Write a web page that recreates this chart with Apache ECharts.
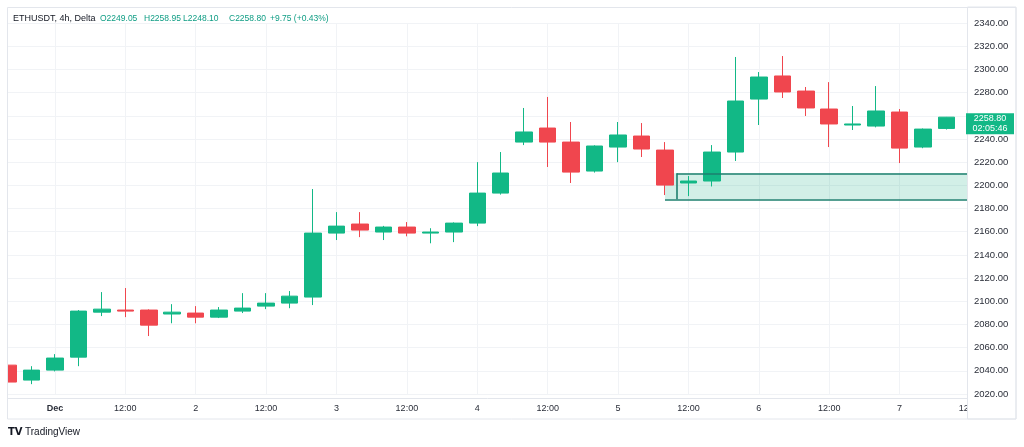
<!DOCTYPE html>
<html>
<head>
<meta charset="utf-8">
<script src="https://cdn.jsdelivr.net/npm/echarts@6/dist/echarts.min.js"></script>
<style>
html,body{margin:0;padding:0;background:#fff;}
#chart{width:1024px;height:447px;}
</style>
</head>
<body>
<div id="chart"></div>
<script>
// ---- data ----
const categories = [
  '11-30 16:00','11-30 20:00',
  '12-01 00:00','12-01 04:00','12-01 08:00','12-01 12:00','12-01 16:00','12-01 20:00',
  '12-02 00:00','12-02 04:00','12-02 08:00','12-02 12:00','12-02 16:00','12-02 20:00',
  '12-03 00:00','12-03 04:00','12-03 08:00','12-03 12:00','12-03 16:00','12-03 20:00',
  '12-04 00:00','12-04 04:00','12-04 08:00','12-04 12:00','12-04 16:00','12-04 20:00',
  '12-05 00:00','12-05 04:00','12-05 08:00','12-05 12:00','12-05 16:00','12-05 20:00',
  '12-06 00:00','12-06 04:00','12-06 08:00','12-06 12:00','12-06 16:00','12-06 20:00',
  '12-07 00:00','12-07 04:00','12-07 08:00','12-07 12:00'
];
const opens  = [2044.9,2032.0,2040.6,2051.8,2090.6,2092.4,2092.4,2089.0,2089.8,2086.3,2091.5,2095.8,2098.4,2103.6,
                2158.8,2166.6,2159.7,2164.0,2158.8,2159.7,2167.4,2193.3,2237.3,2249.4,2237.3,2212.3,2233.0,2242.5,
                2230.4,2202.0,2203.7,2228.7,2274.4,2294.3,2281.3,2265.8,2252.0,2251.1,2263.2,2233.0,2249.05];
const closes = [2030.3,2040.6,2051.0,2091.5,2093.2,2091.5,2079.4,2090.6,2086.3,2092.4,2094.1,2098.4,2104.4,2158.8,
                2164.8,2161.4,2164.0,2158.8,2159.7,2167.4,2193.3,2210.6,2246.0,2237.3,2211.4,2233.9,2243.4,2231.3,
                2200.2,2203.7,2228.7,2272.7,2293.4,2280.5,2266.7,2252.9,2252.9,2264.1,2232.1,2248.5,2258.80];
const lows   = [2024.0,2028.5,2039.5,2044.0,2087.2,2086.3,2070.0,2081.0,2081.0,2085.5,2089.8,2093.2,2094.0,2096.7,
                2152.8,2155.3,2152.8,2156.0,2150.0,2151.0,2164.8,2192.0,2234.7,2215.8,2202.0,2211.0,2220.0,2224.4,
                2191.6,2190.7,2199.0,2221.0,2252.0,2275.3,2259.8,2233.0,2247.7,2250.0,2219.2,2232.0,2248.10];
const highs  = [2052.7,2044.0,2054.4,2092.4,2107.9,2111.4,2093.0,2097.5,2095.8,2095.0,2107.0,2107.0,2108.8,2196.8,
                2176.9,2176.9,2165.0,2168.3,2163.0,2168.0,2220.0,2228.7,2266.7,2276.2,2254.6,2234.5,2254.6,2253.7,
                2237.3,2208.0,2234.7,2310.7,2297.7,2311.5,2284.8,2289.0,2268.4,2285.6,2265.8,2249.0,2258.95];
const tickLabels = {
  '12-01 00:00':'Dec','12-01 12:00':'12:00','12-02 00:00':'2','12-02 12:00':'12:00',
  '12-03 00:00':'3','12-03 12:00':'12:00','12-04 00:00':'4','12-04 12:00':'12:00',
  '12-05 00:00':'5','12-05 12:00':'12:00','12-06 00:00':'6','12-06 12:00':'12:00',
  '12-07 00:00':'7','12-07 12:00':'12:00'
};
const yTicks = {min:2020, max:2340, step:20};
const zone = {start:28, lineStart:28.5, end:41, top:2210.3, bottom:2187.9};
const countdown = '02:05:46';
const symbolName = 'ETHUSDT, 4h, Delta';

// ---- styles ----
const UP = '#12b886', DOWN = '#f0464e', TEAL = '#0f9d84';
const FONT = 'Liberation Sans, Arial, sans-serif';
const TXT = '#2a2e39';
const GRIDC = '#f1f3f6', FRAME = '#e3e6ec';

const ohlc = opens.map((o,i)=>[o, closes[i], lows[i], highs[i]]);
const last = opens.length - 1;
const chg = closes[last] - opens[last];
const pct = chg / opens[last] * 100;
const sign = v => (v >= 0 ? '+' : '');

const chart = echarts.init(document.getElementById('chart'), null, {renderer:'canvas'});
const hdrY = 14;
const hdr = (x, txt, color, size) => ({type:'text', left:x, top:hdrY, z:80,
  style:{text:txt, fill:color, font:(size||8.5) + 'px ' + FONT}});

const yBase = {type:'value', position:'right', min:yTicks.min, max:yTicks.max, interval:yTicks.step,
  axisLine:{show:false}, axisTick:{show:false}};

chart.setOption({
  animation:false,
  backgroundColor:'#ffffff',
  grid:{left:8, right:54, top:23, bottom:53},
  xAxis:[{
    type:'category', data:categories, boundaryGap:false, offset:4, z:0,
    axisLine:{show:false}, axisTick:{show:false},
    axisLabel:{
      interval:(i,v)=>tickLabels[v]!==undefined,
      formatter:v=>{const t=tickLabels[v]||''; return t==='Dec' ? '{b|Dec}' : t;},
      color:TXT, fontSize:9, fontFamily:FONT, margin:6,
      rich:{b:{fontWeight:'bold', fontSize:9, fontFamily:FONT, color:TXT}}
    },
    splitLine:{show:true, interval:(i,v)=>tickLabels[v]!==undefined, lineStyle:{color:GRIDC, width:1}}
  },{
    type:'value', min:0, max:categories.length-1, show:false
  }],
  yAxis:[
    Object.assign({}, yBase, {z:0, axisLabel:{show:false}, splitLine:{lineStyle:{color:GRIDC, width:1}}}),
    Object.assign({}, yBase, {z:60, splitLine:{show:false},
      axisLabel:{formatter:v=>(Math.abs(v - closes[last]) < 6 ? '' : v.toFixed(2)),
        color:TXT, fontSize:9.5, fontFamily:FONT, margin:4}})
  ],
  series:[{
    type:'candlestick', data:ohlc, barWidth:17, z:2,
    itemStyle:{color:UP, color0:DOWN, borderColor:UP, borderColor0:DOWN, borderWidth:1}
  },{
    type:'line', xAxisIndex:1, data:[], z:1, silent:true,
    markArea:{silent:true, z:1,
      itemStyle:{color:'rgba(18,170,130,0.19)'},
      data:[[{coord:[zone.start, zone.top]},{coord:[zone.end, zone.bottom]}]]},
    markLine:{silent:true, symbol:['none','none'], z:5, label:{show:false},
      lineStyle:{color:'#1d7f6e', width:1.6, type:'solid'},
      data:[
        [{coord:[zone.lineStart, zone.top]},{coord:[zone.end, zone.top]}],
        [{coord:[zone.start, zone.bottom]},{coord:[zone.end, zone.bottom]}],
        [{coord:[zone.lineStart, zone.top]},{coord:[zone.lineStart, zone.bottom]}]
      ]}
  },{
    type:'line', xAxisIndex:1, data:[], silent:true,
    markPoint:{silent:true, z:70,
      data:[{coord:[categories.length-1, closes[last]], symbol:'rect', symbolSize:[48,21], symbolOffset:[20,6.5],
        itemStyle:{color:UP},
        label:{show:true, position:'inside', formatter:closes[last].toFixed(2)+'\n'+countdown,
          color:'#ffffff', fontSize:9, lineHeight:10, fontFamily:FONT}}]}
  }],
  graphic:[
    // left mask (clips first candle), price-axis panel and frame
    {type:'rect', z:40, shape:{x:0, y:0, width:7.5, height:447}, style:{fill:'#ffffff'}},
    {type:'rect', z:40, shape:{x:967.5, y:7, width:48.5, height:412}, style:{fill:'#ffffff', stroke:FRAME, lineWidth:1}},
    {type:'rect', z:41, shape:{x:7.5, y:7.5, width:1008.5, height:411.5}, style:{fill:'none', stroke:FRAME, lineWidth:1}},
    {type:'line', z:41, shape:{x1:7.5, y1:398.5, x2:967.5, y2:398.5}, style:{stroke:FRAME, lineWidth:1}},
    // header
    hdr(13, symbolName, '#131722', 9),
    hdr(100, 'O' + opens[last].toFixed(2), TEAL),
    hdr(144, 'H' + highs[last].toFixed(2), TEAL),
    hdr(183, 'L' + lows[last].toFixed(2), TEAL),
    hdr(229, 'C' + closes[last].toFixed(2), TEAL),
    hdr(270, sign(chg) + chg.toFixed(2) + ' (' + sign(pct) + pct.toFixed(2) + '%)', TEAL),
    // logo
    {type:'text', left:8, top:427, z:80, style:{text:'TV', fill:'#131722', font:'bold 10px DejaVu Sans, sans-serif'}},
    {type:'text', left:25, top:427, z:80, style:{text:'TradingView', fill:'#131722', font:'10px ' + FONT}}
  ]
});
</script>
</body>
</html>
